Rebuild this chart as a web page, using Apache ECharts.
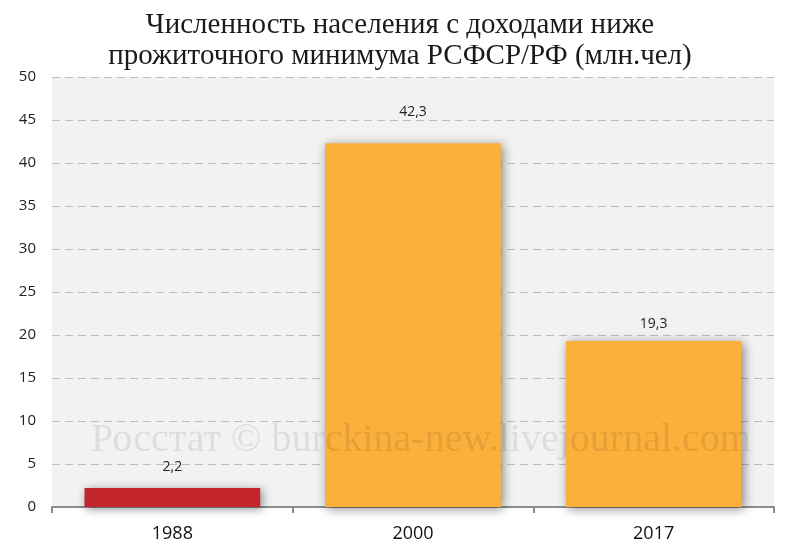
<!DOCTYPE html>
<html><head><meta charset="utf-8">
<script src="https://cdn.jsdelivr.net/npm/echarts@6/dist/echarts.min.js"></script>
<style>html,body{margin:0;padding:0;background:#fff}#c{width:800px;height:554px}</style>
</head><body><div id="c"></div>
<script>
const categories = ['1988', '2000', '2017'];
const values = [2.2, 42.3, 19.3];
const barColors = ['#c4262e', '#fbb03b', '#fbb03b'];
const labelGaps = [14, 24, 10];
const yTicks = {min: 0, max: 50, interval: 5};

const chart = echarts.init(document.getElementById('c'), null, {renderer: 'canvas'});
chart.setOption({
  animation: false,
  backgroundColor: '#ffffff',
  title: {
    text: 'Численность населения с доходами ниже\nпрожиточного минимума РСФСР/РФ (млн.чел)',
    left: 'center', top: 5,
    textStyle: {fontFamily: 'Liberation Serif', fontSize: 29, fontWeight: 'normal', color: '#1a1a1a', lineHeight: 31}
  },
  grid: {left: 52, right: 26, top: 77, bottom: 47, show: true, backgroundColor: '#f2f2f2', borderWidth: 0},
  xAxis: {
    type: 'category', data: categories,
    axisLine: {lineStyle: {color: '#8c8c8c', width: 2}},
    axisTick: {show: true, length: 6, lineStyle: {color: '#8c8c8c', width: 2}},
    axisLabel: {fontFamily: 'Open Sans', fontSize: 18, color: '#111', margin: 18}
  },
  yAxis: {
    type: 'value', min: yTicks.min, max: yTicks.max, interval: yTicks.interval,
    axisLine: {show: false}, axisTick: {show: false},
    axisLabel: {fontFamily: 'Open Sans', fontSize: 15, color: '#222', margin: 16},
    splitLine: {lineStyle: {color: '#bdbdbd', type: [8, 5], width: 1}}
  },
  series: [{
    type: 'bar', barWidth: '73%',
    data: values.map((v, i) => ({
      value: v,
      itemStyle: {color: barColors[i]},
      label: {distance: labelGaps[i]}
    })),
    itemStyle: {shadowBlur: 10, shadowColor: 'rgba(0,0,0,0.45)', shadowOffsetX: 2, shadowOffsetY: 2},
    label: {
      show: true, position: 'top', fontFamily: 'Open Sans', fontSize: 14, color: '#222',
      formatter: p => String(p.value).replace('.', ',')
    }
  }],
  graphic: [{
    type: 'text', x: 421, y: 440, z: 100,
    style: {text: 'Росстат © burckina-new.livejournal.com', font: '40px "Liberation Serif"', fill: 'rgba(0,0,0,0.085)', align: 'center', verticalAlign: 'middle'}
  }]
});
</script></body></html>
